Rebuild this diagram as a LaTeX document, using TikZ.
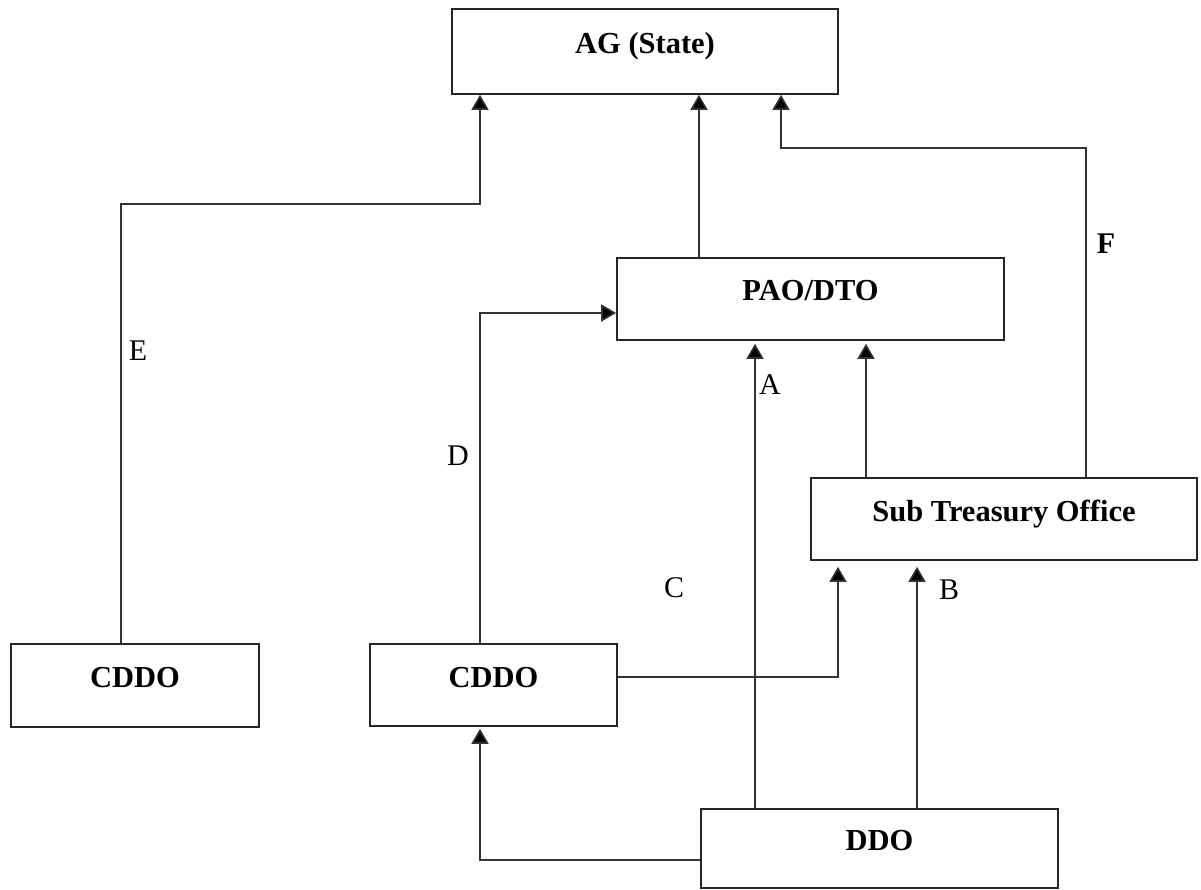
\documentclass[tikz,border=0pt]{standalone}
\usepackage{fontspec}
\setmainfont{Liberation Serif}
\usetikzlibrary{arrows.meta}
\tikzset{
  box/.style={draw=black!85, line width=1.6pt, rectangle, inner sep=0pt,
    font=\fontsize{30.5}{36}\selectfont\bfseries, text height=21pt, text depth=17pt},
  arr/.style={draw=black!80, line width=1.6pt, -{Triangle[width=17pt,length=15pt,fill=black]}},
  lbl/.style={inner sep=0pt, font=\fontsize{30}{36}\selectfont}
}
\begin{document}
\begin{tikzpicture}[x=1pt,y=-1pt]
\useasboundingbox (0,0) rectangle (1201,890);
\node[box, minimum width=386pt, minimum height=85pt] (ag) at (645,51.5) {AG (State)};
\node[box, minimum width=387pt, minimum height=82pt] (pao) at (810.5,299) {PAO/DTO};
\node[box, minimum width=386pt, minimum height=82pt] (sto) at (1004,519) {Sub Treasury Office};
\node[box, minimum width=248pt, minimum height=83pt] (cddoL) at (135,685.5) {CDDO};
\node[box, minimum width=247pt, minimum height=82pt] (cddoM) at (493.5,685) {CDDO};
\node[box, minimum width=357pt, minimum height=79pt] (ddo) at (879.5,848.5) {DDO};

\coordinate (e1) at (121,204);
\coordinate (e2) at (480,204);
\coordinate (xa) at (699,0);
\coordinate (f1) at (1086,148);
\coordinate (f2) at (781,148);
\coordinate (xd) at (480,313);
\coordinate (xA) at (755,0);
\coordinate (xs) at (866,0);
\coordinate (xc) at (838,0);
\coordinate (xB) at (917,0);

% E
\draw[arr] (e1 |- cddoL.north) -- (e1) -- (e2) -- (e2 |- ag.south);
% PAO -> AG
\draw[arr] (xa |- pao.north) -- (xa |- ag.south);
% F
\draw[arr] (f1 |- sto.north) -- (f1) -- (f2) -- (f2 |- ag.south);
% D
\draw[arr] (xd |- cddoM.north) -- (xd) -- (xd -| pao.west);
% A
\draw[arr, shorten >=3pt] (xA |- ddo.north) -- (xA |- pao.south);
% STO -> PAO
\draw[arr, shorten >=3pt] (xs |- sto.north) -- (xs |- pao.south);
% C
\draw[arr, shorten >=6pt] ([yshift=8pt]cddoM.east) -| (xc |- sto.south);
% B
\draw[arr, shorten >=6pt] (xB |- ddo.north) -- (xB |- sto.south);
% DDO -> CDDO
\draw[arr, shorten >=2pt] ([yshift=-11.5pt]ddo.west) -| (xd |- cddoM.south);

\node[lbl] (lE) at (138,351) {E};
\node[lbl] (lD) at (458,456) {D};
\node[lbl] (lC) at (674,588) {C};
\node[lbl] (lA) at (770,385) {A};
\node[lbl] (lB) at (949,590) {B};
\node[lbl, font=\fontsize{30}{36}\selectfont\bfseries] (lF) at (1106,244) {F};
\end{tikzpicture}
\end{document}
